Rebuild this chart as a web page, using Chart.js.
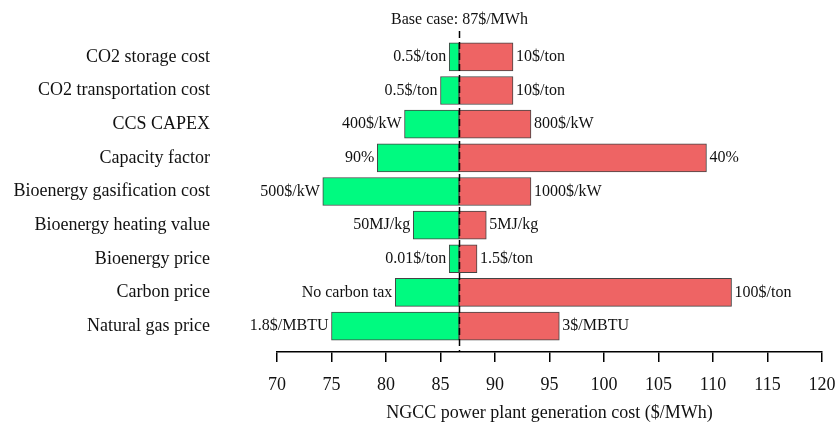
<!DOCTYPE html>
<html>
<head>
<meta charset="utf-8">
<script src="https://cdn.jsdelivr.net/npm/chart.js@4"></script>
<style>
  body { margin: 0; background: #fff; }
  #wrap { width: 840px; height: 426px; }
</style>
</head>
<body>
<div id="wrap"><canvas id="tornado-chart" width="840" height="426"></canvas></div>
<script>
const categories = [
    'CO2 storage cost',
    'CO2 transportation cost',
    'CCS CAPEX',
    'Capacity factor',
    'Bioenergy gasification cost',
    'Bioenergy heating value',
    'Bioenergy price',
    'Carbon price',
    'Natural gas price'
];
const baseCost = 86.7;
const lowValues = [85.8, 85.0, 81.7, 79.2, 74.2, 82.5, 85.8, 80.85, 75.0];
const highValues = [91.65, 91.65, 93.3, 109.4, 93.3, 89.2, 88.35, 111.7, 95.9];
const lowLabels = ['0.5$/ton', '0.5$/ton', '400$/kW', '90%', '500$/kW', '50MJ/kg', '0.01$/ton', 'No carbon tax', '1.8$/MBTU'];
const highLabels = ['10$/ton', '10$/ton', '800$/kW', '40%', '1000$/kW', '5MJ/kg', '1.5$/ton', '100$/ton', '3$/MBTU'];
const xTicks = [70, 75, 80, 85, 90, 95, 100, 105, 110, 115, 120];

const serif = "'Liberation Serif', 'Times New Roman', serif";

// dashed base-case line + caption, and value labels beside the bars
const tornadoPlugin = {
    id: 'tornadoExtras',
    afterDatasetsDraw(chart) {
        const ctx = chart.ctx;
        const xs = chart.scales.x;
        const area = chart.chartArea;
        const bx = Math.round(xs.getPixelForValue(baseCost)) + 0.5;

        ctx.save();
        ctx.strokeStyle = '#000';
        ctx.lineWidth = 1.5;
        ctx.setLineDash([7, 4]);
        ctx.beginPath();
        ctx.moveTo(bx, 31);
        ctx.lineTo(bx, area.bottom);
        ctx.stroke();
        ctx.setLineDash([]);

        ctx.fillStyle = '#111';
        ctx.font = '16px ' + serif;
        ctx.textAlign = 'center';
        ctx.textBaseline = 'middle';
        ctx.fillText('Base case: 87$/MWh', bx, 20);

        const lowMeta = chart.getDatasetMeta(0);
        const highMeta = chart.getDatasetMeta(1);
        lowMeta.data.forEach((bar, i) => {
            ctx.textAlign = 'right';
            ctx.fillText(lowLabels[i], Math.min(bar.x, bar.base) - 3, bar.y);
        });
        highMeta.data.forEach((bar, i) => {
            ctx.textAlign = 'left';
            ctx.fillText(highLabels[i], Math.max(bar.x, bar.base) + 3, bar.y);
        });
        ctx.restore();
    }
};

const ctx = document.getElementById('tornado-chart').getContext('2d');

new Chart(ctx, {
    type: 'bar',
    data: {
        datasets: [
            {
                label: 'Low',
                data: categories.map((c, i) => ({ x: [lowValues[i], baseCost], y: i })),
                backgroundColor: '#00FA80',
                borderColor: '#444',
                borderWidth: 1,
                borderSkipped: false,
            },
            {
                label: 'High',
                data: categories.map((c, i) => ({ x: [baseCost, highValues[i]], y: i })),
                backgroundColor: '#EE6464',
                borderColor: '#444',
                borderWidth: 1,
                borderSkipped: false,
            },
        ],
    },
    options: {
        indexAxis: 'y',
        responsive: false,
        animation: false,
        grouped: false,
        barThickness: 28,
        layout: { padding: { top: 40, right: 18, left: 0, bottom: 0 } },
        plugins: {
            legend: { display: false },
            tooltip: { enabled: false },
        },
        scales: {
            x: {
                type: 'linear',
                min: 70,
                max: 120,
                afterBuildTicks: s => { s.ticks = xTicks.map(v => ({ value: v })); },
                afterFit: s => { s.height = 74; s.paddingLeft = 0; s.paddingRight = 0; },
                border: { display: true, color: '#000', width: 1.5 },
                grid: { drawOnChartArea: false, drawTicks: true, tickLength: 10, color: '#000', lineWidth: 1.5 },
                ticks: { color: '#111', padding: 12, font: { family: serif, size: 18 } },
                title: {
                    display: true,
                    text: 'NGCC power plant generation cost ($/MWh)',
                    color: '#111',
                    font: { family: serif, size: 18 },
                    padding: { top: 2, bottom: 2 },
                },
            },
            y: {
                type: 'linear',
                reverse: true,
                offset: false,
                min: -0.5,
                max: 8.77,
                afterBuildTicks: s => { s.ticks = categories.map((c, i) => ({ value: i })); },
                afterFit: s => { s.width = 277; s.paddingTop = 0; s.paddingBottom = 0; },
                border: { display: false },
                grid: { display: false, drawTicks: false, offset: false },
                ticks: {
                    color: '#111',
                    padding: 67,
                    font: { family: serif, size: 18 },
                    callback: v => categories[v],
                },
            },
        },
    },
    plugins: [tornadoPlugin],
});
</script>
</body>
</html>
